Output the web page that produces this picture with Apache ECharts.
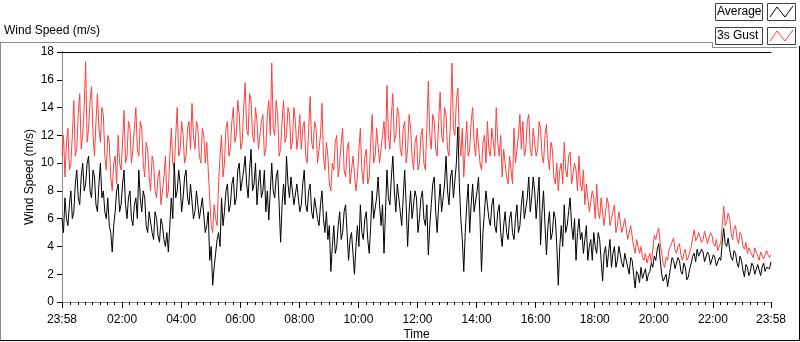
<!DOCTYPE html>
<html>
<head>
<meta charset="utf-8">
<script src="https://cdn.jsdelivr.net/npm/echarts@6/dist/echarts.min.js"></script>
<style>
  html, body {margin: 0; padding: 0; background: #fff;}
  #wind-chart {width: 800px; height: 342px;}
</style>
</head>
<body>
<div id="wind-chart"></div>
<script>
// one sample every 3 minutes, first sample at 23:58
let sampleMinutes = 3

let gustSpeed = [
  10.5, 12.0, 9.0, 11.5, 12.5, 9.5, 10.0, 12.0, 14.5, 10.5, 11.0, 13.5, 15.0, 11.0, 12.0, 14.0, 17.3, 11.5, 12.5, 14.5,
  15.5, 12.0, 10.5, 13.0, 15.0, 12.5, 11.5, 14.0, 13.5, 10.5, 9.5, 12.0, 11.5, 9.0, 8.0, 10.0, 10.5, 8.5, 12.0, 10.0,
  9.5, 11.5, 13.8, 10.0, 10.5, 13.0, 12.5, 10.0, 11.0, 12.5, 14.0, 11.0, 10.5, 13.0, 12.5, 10.0, 9.0, 11.5, 11.0, 9.0,
  8.0, 10.5, 10.0, 8.0, 7.5, 9.0, 9.5, 7.0, 7.0, 9.0, 10.5, 7.5, 8.0, 10.5, 12.5, 10.0, 9.5, 12.0, 14.0, 10.5,
  11.0, 13.0, 12.0, 10.0, 10.5, 12.5, 13.0, 11.0, 14.3, 12.0, 11.0, 13.0, 12.5, 10.5, 10.0, 12.5, 12.0, 10.0, 11.5, 9.5,
  7.5, 5.5, 5.0, 7.0, 6.0, 5.5, 8.5, 10.5, 12.0, 9.0, 10.0, 12.5, 13.0, 10.5, 11.0, 13.0, 14.0, 11.5, 12.0, 14.5,
  13.5, 11.0, 11.5, 14.0, 15.8, 12.5, 12.0, 15.0, 14.5, 12.0, 11.5, 14.0, 13.0, 11.0, 11.0, 13.0, 13.5, 10.5, 11.0, 13.5,
  14.5, 12.0, 17.2, 12.5, 12.0, 14.5, 13.5, 10.5, 11.0, 13.0, 14.5, 11.5, 12.0, 14.0, 13.5, 11.0, 11.5, 14.0, 13.0, 11.0,
  12.0, 13.5, 11.0, 12.5, 13.0, 10.5, 10.0, 12.5, 14.8, 11.5, 11.0, 13.0, 12.5, 10.0, 10.0, 12.0, 14.3, 10.5, 9.5, 11.5,
  10.5, 8.5, 8.0, 10.0, 9.5, 11.5, 12.0, 9.0, 10.0, 11.5, 12.5, 9.5, 9.0, 11.0, 11.5, 8.5, 8.5, 10.5, 10.5, 8.0,
  9.0, 11.0, 12.5, 9.5, 8.5, 10.5, 11.0, 8.5, 9.0, 11.5, 13.5, 10.0, 10.5, 12.5, 12.5, 10.0, 10.0, 12.0, 13.0, 11.0,
  15.6, 12.0, 11.0, 13.5, 15.0, 11.5, 12.0, 14.0, 13.5, 11.0, 10.5, 12.5, 13.0, 10.0, 11.0, 13.5, 12.5, 10.5, 9.5, 11.5,
  12.0, 9.5, 10.0, 12.0, 12.5, 10.0, 9.5, 12.5, 15.9, 12.0, 11.0, 13.5, 13.0, 11.0, 10.5, 13.0, 15.1, 12.0, 11.5, 14.0,
  13.5, 11.0, 10.5, 13.0, 17.2, 12.5, 12.0, 14.5, 15.4, 12.0, 10.5, 12.5, 9.0, 11.0, 13.0, 10.5, 11.0, 13.0, 14.0, 11.5,
  10.5, 12.5, 12.5, 10.0, 9.5, 11.5, 12.0, 10.0, 13.0, 11.0, 10.5, 12.5, 12.5, 10.5, 14.0, 11.5, 10.5, 12.0, 9.0, 11.0,
  11.0, 9.0, 8.5, 10.5, 10.5, 8.5, 12.5, 10.0, 10.0, 12.0, 13.5, 11.0, 13.0, 10.5, 11.0, 13.0, 13.5, 11.0, 10.5, 12.5,
  12.5, 10.5, 11.0, 13.0, 12.5, 10.5, 10.0, 12.0, 12.8, 10.5, 9.5, 11.5, 11.0, 9.0, 8.5, 10.0, 8.0, 9.5, 10.0, 8.5,
  11.5, 9.5, 9.0, 10.5, 10.8, 8.5, 8.5, 10.0, 9.5, 8.0, 10.5, 8.5, 8.0, 9.5, 7.0, 8.5, 8.5, 6.5, 6.5, 8.0,
  7.5, 6.0, 8.5, 6.5, 6.0, 7.5, 7.5, 5.5, 6.5, 7.5, 7.0, 5.5, 5.5, 6.5, 7.0, 5.0, 5.5, 6.5, 6.5, 5.0,
  5.0, 6.0, 6.0, 4.5, 4.5, 5.5, 5.5, 4.0, 3.5, 4.5, 4.5, 3.5, 4.0, 3.2, 3.0, 3.5, 2.8, 3.2, 3.5, 2.8,
  3.8, 4.8, 4.5, 5.0, 5.3, 4.2, 3.5, 2.8, 2.5, 3.2, 3.0, 3.8, 4.0, 4.3, 4.6, 3.8, 3.5, 4.0, 4.2, 3.4,
  3.0, 3.5, 3.8, 3.0, 3.2, 3.6, 4.0, 4.6, 5.2, 4.4, 4.6, 5.0, 5.0, 4.3, 4.5, 5.1, 5.0, 4.2, 4.6, 5.0,
  4.8, 4.2, 4.0, 4.5, 3.7, 4.0, 4.3, 5.5, 6.9, 5.5, 5.8, 6.4, 6.0, 5.0, 4.5, 5.3, 5.5, 4.6, 4.2, 5.0,
  4.8, 4.0, 3.8, 4.3, 3.5, 3.9, 4.0, 3.4, 3.2, 3.9, 3.8, 3.3, 3.0, 3.6, 3.5, 3.1, 3.2, 3.7, 3.4, 3.2,
  3.4
]

let avgSpeed = [
  6.0, 5.0, 7.5, 6.0, 5.5, 7.0, 8.0, 6.0, 6.5, 8.5, 9.5, 7.5, 7.0, 9.0, 10.0, 8.0, 8.5, 10.0, 10.5, 8.0,
  7.5, 9.5, 9.0, 7.0, 6.5, 8.5, 10.0, 7.5, 8.0, 6.5, 6.0, 7.5, 5.5, 5.0, 3.6, 5.5, 6.5, 8.0, 8.5, 6.5,
  7.0, 8.5, 9.5, 7.0, 6.0, 7.5, 8.0, 6.0, 5.5, 7.0, 7.5, 6.0, 9.5, 7.5, 6.5, 8.0, 7.5, 5.5, 5.0, 6.5,
  6.5, 5.0, 4.5, 6.5, 6.0, 4.8, 4.3, 6.0, 5.5, 4.5, 4.0, 5.0, 3.6, 5.5, 7.5, 6.0, 10.0, 7.5, 8.0, 9.5,
  8.5, 6.5, 7.5, 9.0, 9.5, 7.5, 7.0, 8.5, 8.5, 6.0, 6.5, 8.0, 8.0, 6.0, 6.0, 7.5, 7.5, 5.0, 5.5, 6.5,
  3.0, 4.0, 1.2, 2.5, 3.5, 4.5, 5.0, 4.0, 7.5, 5.5, 6.5, 8.0, 8.5, 6.5, 7.0, 8.5, 9.0, 7.0, 7.5, 9.5,
  10.0, 8.0, 8.0, 9.5, 10.5, 8.5, 7.5, 9.5, 11.0, 8.0, 8.5, 10.0, 7.0, 8.5, 9.5, 7.5, 8.0, 9.5, 6.5, 8.0,
  5.9, 8.0, 10.0, 8.0, 7.5, 9.0, 9.5, 7.0, 4.3, 7.0, 8.5, 7.0, 10.5, 8.5, 7.5, 9.0, 9.0, 7.0, 7.0, 8.5,
  8.5, 6.5, 7.0, 8.5, 9.5, 7.0, 6.5, 8.0, 8.5, 6.5, 6.0, 7.5, 7.5, 6.0, 5.5, 7.0, 8.0, 6.0, 5.0, 6.5,
  4.5, 5.5, 2.2, 4.0, 5.5, 3.5, 4.0, 5.5, 6.5, 4.5, 5.0, 6.5, 7.0, 5.0, 3.0, 4.5, 5.0, 3.5, 2.0, 4.0,
  5.5, 4.0, 7.0, 5.0, 4.5, 6.0, 6.5, 4.5, 3.5, 5.5, 8.0, 6.0, 6.0, 7.5, 9.0, 7.0, 5.5, 7.0, 3.5, 6.5,
  9.5, 7.5, 7.0, 9.0, 10.5, 8.0, 6.5, 8.5, 8.5, 6.5, 5.5, 7.5, 9.5, 7.0, 4.0, 6.5, 8.0, 6.0, 6.0, 8.0,
  7.5, 5.0, 6.0, 7.5, 8.0, 6.0, 5.5, 7.0, 3.4, 5.5, 7.0, 8.5, 9.0, 6.5, 5.0, 7.0, 8.5, 6.5, 6.5, 8.5,
  10.5, 8.0, 7.0, 9.0, 9.5, 7.5, 7.5, 10.0, 12.6, 8.5, 6.0, 4.5, 2.2, 5.0, 7.0, 8.5, 5.0, 7.0, 8.5, 6.5,
  6.5, 8.0, 9.0, 6.0, 2.2, 5.0, 6.5, 8.0, 8.0, 6.0, 5.5, 7.0, 7.5, 5.5, 5.0, 6.5, 7.0, 5.0, 4.0, 5.5,
  6.5, 5.0, 4.5, 6.0, 6.5, 5.0, 4.5, 6.0, 7.0, 5.0, 5.5, 7.0, 8.0, 6.0, 6.0, 7.5, 9.0, 6.5, 7.5, 9.0,
  8.0, 6.0, 7.5, 9.0, 4.1, 6.5, 8.0, 5.5, 3.4, 5.5, 6.5, 4.5, 5.0, 6.5, 6.0, 4.0, 1.2, 4.0, 5.5, 4.0,
  7.0, 5.0, 5.5, 6.5, 7.5, 5.5, 4.5, 6.0, 3.0, 5.0, 6.0, 4.5, 5.0, 3.5, 4.5, 5.5, 3.0, 4.0, 4.5, 3.0,
  5.0, 4.0, 3.5, 5.0, 4.5, 3.0, 1.5, 3.5, 4.0, 2.5, 3.5, 4.5, 2.5, 3.5, 4.0, 2.5, 3.0, 4.0, 4.0, 2.8,
  2.5, 3.5, 3.5, 2.5, 2.0, 3.2, 3.0, 2.0, 1.0, 2.2, 2.0, 1.4, 2.5, 1.7, 1.8, 2.4, 1.5, 2.0, 2.2, 2.8,
  2.5, 3.3, 3.0, 3.8, 4.2, 3.0, 2.0, 1.5, 1.5, 2.0, 1.1, 1.8, 2.5, 3.2, 3.0, 2.4, 2.5, 3.2, 3.0, 2.2,
  2.0, 2.8, 2.5, 1.6, 1.8, 2.4, 2.8, 3.3, 3.5, 2.9, 3.8, 3.3, 3.2, 3.8, 3.6, 2.9, 3.0, 3.6, 3.4, 2.7,
  2.8, 3.4, 3.2, 2.6, 2.5, 3.2, 3.0, 4.3, 5.3, 4.2, 4.0, 4.6, 3.8, 3.2, 3.0, 3.7, 3.5, 2.8, 2.5, 3.3,
  3.0, 2.3, 1.8, 2.7, 2.5, 1.9, 2.2, 2.8, 2.6, 2.0, 2.0, 2.7, 2.3, 1.9, 2.5, 2.8, 2.2, 2.5, 2.6, 2.4,
  2.9
]

let tickLabels = ['23:58', '02:00', '04:00', '06:00', '08:00', '10:00', '12:00',
  '14:00', '16:00', '18:00', '20:00', '22:00', '23:58']

// minutes since the first sample (23:58)
let toOffset = (label, idx) => {
  if (idx === tickLabels.length - 1) return 1440
  let [h, m] = label.split(':').map(Number)
  return (h * 60 + m + 2) % 1440
}
let majorTicks = tickLabels.map(toOffset)
let labelByOffset = {}
majorTicks.forEach((v, i) => { labelByOffset[v] = tickLabels[i] })

// minor ticks every quarter hour of clock time
let minorTicks = []
for (let c = 15; c < 1440; c += 15) {
  if (c % 120 !== 0) minorTicks.push(c + 2)
}

let toPairs = arr => arr.map((v, i) => [i * sampleMinutes, v])

let font = '"Liberation Sans", Arial, sans-serif'
let red = '#ff3f3f'

let myChart = echarts.init(document.getElementById('wind-chart'))
let option = {
  animation: false,
  grid: {left: 62, right: 29, top: 52, bottom: 40, outerBoundsMode: 'none'},
  xAxis: [
    {
      type: 'value',
      min: 0,
      max: 1440,
      position: 'bottom',
      splitLine: {show: false},
      axisLine: {lineStyle: {color: '#8a8a8a', width: 1}},
      axisTick: {customValues: majorTicks, length: 6, lineStyle: {color: '#000'}},
      axisLabel: {
        customValues: majorTicks,
        formatter: v => labelByOffset[v] || '',
        margin: 12,
        color: '#000',
        fontFamily: font,
        fontSize: 12
      },
      name: 'Time',
      nameLocation: 'middle',
      nameGap: 27,
      nameMoveOverlap: false,
      nameTextStyle: {color: '#000', fontFamily: font, fontSize: 12}
    },
    {
      type: 'value',
      min: 0,
      max: 1440,
      position: 'bottom',
      splitLine: {show: false},
      axisLine: {show: false},
      axisTick: {customValues: minorTicks, length: 3, lineStyle: {color: '#000'}},
      axisLabel: {show: false}
    },
    {
      type: 'value',
      min: 0,
      max: 1440,
      position: 'top',
      splitLine: {show: false},
      axisLine: {lineStyle: {color: '#000', width: 1}},
      axisTick: {show: false},
      axisLabel: {show: false}
    }
  ],
  yAxis: [
    {
      type: 'value',
      min: 0,
      max: 18,
      interval: 2,
      splitLine: {show: false},
      axisLine: {show: true, lineStyle: {color: '#000', width: 1}},
      axisTick: {show: true, length: 5, lineStyle: {color: '#000'}},
      axisLabel: {margin: 8, color: '#000', fontFamily: font, fontSize: 12},
      name: 'Wind Speed (m/s)',
      nameLocation: 'middle',
      nameGap: 26,
      nameMoveOverlap: false,
      nameTextStyle: {color: '#000', fontFamily: font, fontSize: 12}
    },
    {
      type: 'value',
      min: 0,
      max: 18,
      position: 'right',
      splitLine: {show: false},
      axisLine: {show: true, lineStyle: {color: '#8a8a8a', width: 1}},
      axisTick: {show: false},
      axisLabel: {show: false}
    }
  ],
  graphic: [
    {type: 'text', left: 4, top: 25, style: {text: 'Wind Speed (m/s)', fill: '#000', font: '12px ' + font}},
    {type: 'line', shape: {x1: 0, y1: 42.5, x2: 712, y2: 42.5}, style: {stroke: '#8a8a8a', lineWidth: 1}},
    {type: 'line', shape: {x1: 712.5, y1: 42, x2: 712.5, y2: 47.5}, style: {stroke: '#8a8a8a', lineWidth: 1}},
    {type: 'line', shape: {x1: 712, y1: 47.5, x2: 797, y2: 47.5}, style: {stroke: '#8a8a8a', lineWidth: 1}},
    {type: 'line', shape: {x1: 0.5, y1: 42, x2: 0.5, y2: 341}, style: {stroke: '#8a8a8a', lineWidth: 1}},
    {type: 'line', shape: {x1: 0, y1: 340.5, x2: 800, y2: 340.5}, style: {stroke: '#000', lineWidth: 1}},
    {type: 'line', shape: {x1: 799.5, y1: 46, x2: 799.5, y2: 341}, style: {stroke: '#000', lineWidth: 1}},
    // legend rows
    {type: 'rect', shape: {x: 715.5, y: 3.5, width: 47, height: 17}, style: {fill: '#fbfbfb', stroke: '#404040', lineWidth: 1}},
    {type: 'text', x: 717, y: 12, style: {text: 'Average', fill: '#000', font: '12px ' + font, verticalAlign: 'middle'}},
    {type: 'rect', shape: {x: 767.5, y: 3.5, width: 28, height: 17}, style: {fill: '#fff', stroke: '#404040', lineWidth: 1}},
    {type: 'polyline', shape: {points: [[770, 17], [777, 7], [785, 17], [793, 6]]}, style: {stroke: '#000', lineWidth: 1, fill: null}},
    {type: 'rect', shape: {x: 715.5, y: 27.5, width: 47, height: 17}, style: {fill: '#fbfbfb', stroke: '#404040', lineWidth: 1}},
    {type: 'text', x: 717, y: 36, style: {text: '3s Gust', fill: '#000', font: '12px ' + font, verticalAlign: 'middle'}},
    {type: 'rect', shape: {x: 767.5, y: 27.5, width: 28, height: 17}, style: {fill: '#fff', stroke: '#404040', lineWidth: 1}},
    {type: 'polyline', shape: {points: [[770, 41], [777, 31], [785, 41], [793, 30]]}, style: {stroke: red, lineWidth: 1, fill: null}}
  ],
  series: [
    {
      name: '3s Gust',
      type: 'line',
      xAxisIndex: 0,
      yAxisIndex: 0,
      data: toPairs(gustSpeed),
      showSymbol: false,
      lineStyle: {color: red, width: 1},
      itemStyle: {color: red}
    },
    {
      name: 'Average',
      type: 'line',
      xAxisIndex: 0,
      yAxisIndex: 0,
      data: toPairs(avgSpeed),
      showSymbol: false,
      lineStyle: {color: '#000', width: 1},
      itemStyle: {color: '#000'}
    }
  ]
}
myChart.setOption(option)
</script>
</body>
</html>
